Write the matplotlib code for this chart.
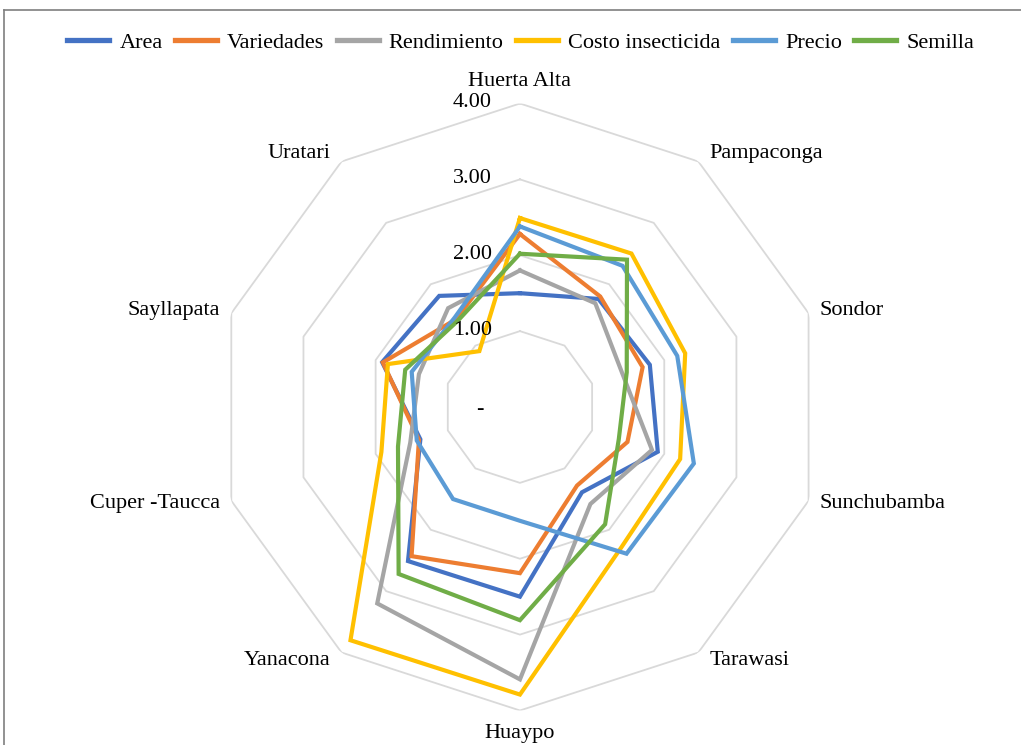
import numpy as np
import matplotlib as mpl
mpl.use('Agg')
import matplotlib.pyplot as plt
from matplotlib.lines import Line2D

plt.rcParams['font.family'] = ['Liberation Serif', 'DejaVu Serif']

categories = ['Huerta Alta', 'Pampaconga', 'Sondor', 'Sunchubamba', 'Tarawasi',
              'Huaypo', 'Yanacona', 'Cuper -Taucca', 'Sayllapata', 'Uratari']

area = [1.50, 1.76, 1.80, 1.91, 1.39, 2.50, 2.51, 1.38, 1.91, 1.81]
variedades = [2.28, 1.80, 1.70, 1.49, 1.28, 2.19, 2.43, 1.40, 1.90, 1.43]
rendimiento = [1.80, 1.69, 1.42, 1.83, 1.58, 3.59, 3.20, 1.52, 1.40, 1.61]
costo_insecticida = [2.49, 2.50, 2.29, 2.22, 2.28, 3.79, 3.80, 1.92, 1.83, 0.91]
precio = [2.38, 2.30, 2.18, 2.41, 2.39, 1.50, 1.50, 1.43, 1.50, 1.46]
semilla = [2.02, 2.40, 1.48, 1.37, 1.91, 2.81, 2.72, 1.69, 1.59, 1.40]

series_names = ['Area', 'Variedades', 'Rendimiento', 'Costo insecticida', 'Precio', 'Semilla']
series_values = [area, variedades, rendimiento, costo_insecticida, precio, semilla]
colors = ['#4472C4', '#ED7D31', '#A5A5A5', '#FFC000', '#5B9BD5', '#70AD47']

levels = [0, 1, 2, 3, 4]
level_labels = ['-', '1.00', '2.00', '3.00', '4.00']

FS = 16

fig = plt.figure(figsize=(10.21, 7.45), dpi=100)
ax = fig.add_axes([0.2120, 0.0463, 0.5945, 0.8148], projection='polar')
ax.set_theta_offset(np.pi / 2)
ax.set_theta_direction(-1)
ax.set_ylim(0, 4)
ax.grid(False)
ax.set_xticks([])
ax.set_yticks([])
ax.spines['polar'].set_visible(False)
ax.patch.set_alpha(0)

n = len(categories)
theta = np.arange(n) * 2 * np.pi / n
closed = np.append(theta, theta[0])

# decagon grid rings
for lvl in levels[1:]:
    ax.plot(closed, [lvl] * (n + 1), color='#D9D9D9', lw=1.3, zorder=0)

for name, vals, c in zip(series_names, series_values, colors):
    ax.plot(closed, list(vals) + [vals[0]], color=c, lw=3, label=name,
            solid_joinstyle='miter', clip_on=False, zorder=2)

# radial value labels
for lvl, lab in zip(levels, level_labels):
    if lab == '-':
        ax.annotate(lab, xy=(0, lvl), xytext=(-40, -3), textcoords='offset pixels',
                    ha='center', va='center', fontsize=FS)
    else:
        ax.annotate(lab, xy=(0, lvl), xytext=(-28, 1), textcoords='offset pixels',
                    ha='right', va='center', fontsize=FS)

# category labels
for t, cat in zip(theta, categories):
    s, c = np.sin(t), np.cos(t)
    if abs(s) < 1e-6:
        off = 22 if c > 0 else 23
        ax.annotate(cat, xy=(t, 4), xytext=(0, off * c), textcoords='offset pixels',
                    ha='center', va='center', fontsize=FS, annotation_clip=False)
    else:
        ax.annotate(cat, xy=(t, 4), xytext=(11 * np.sign(s), 10 * c),
                    textcoords='offset pixels', ha='left' if s > 0 else 'right',
                    va='center', fontsize=FS, annotation_clip=False)

leg = fig.legend(loc='center', bbox_to_anchor=(0.51, 0.943), ncol=6, frameon=False,
                 fontsize=FS, handlelength=1.9, handletextpad=0.45, columnspacing=0.55)
for h in leg.get_lines():
    h.set_linewidth(3.8)

# chart border (left and top edges visible)
fig.add_artist(Line2D([4 / 1021, 4 / 1021], [0, 1 - 10 / 745], color='#7F7F7F', lw=1.2))
fig.add_artist(Line2D([4 / 1021, 1], [1 - 10 / 745, 1 - 10 / 745], color='#7F7F7F', lw=1.2))

fig.savefig('out.png', dpi=100)
